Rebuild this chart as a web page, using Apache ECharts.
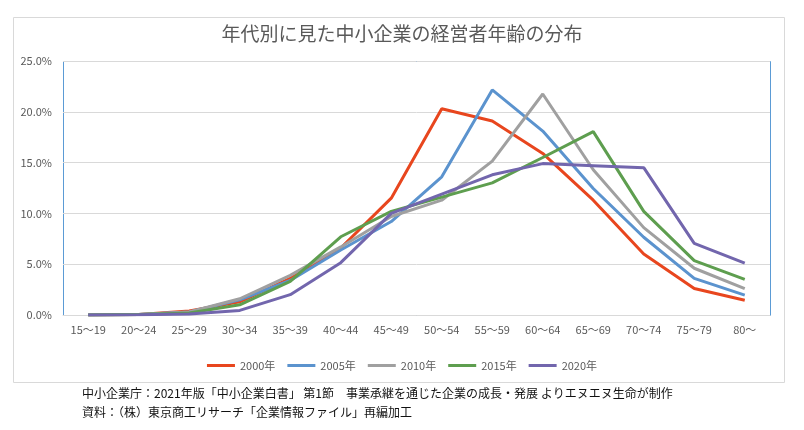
<!DOCTYPE html>
<html>
<head>
<meta charset="utf-8">
<script src="https://cdn.jsdelivr.net/npm/echarts@6/dist/echarts.min.js"></script>
<style>
html, body { margin: 0; padding: 0; background: #fff; }
#chart { width: 804px; height: 430px; }
</style>
</head>
<body>
<div id="chart"></div>
<script>
// 年齢階級
const categories = ["15〜19", "20〜24", "25〜29", "30〜34", "35〜39", "40〜44", "45〜49",
	"50〜54", "55〜59", "60〜64", "65〜69", "70〜74", "75〜79", "80〜"];
// 各年の割合(%)
const y2000 = [0, 0.05, 0.4, 1.3, 3.6, 6.6, 11.5, 20.3, 19.1, 15.9, 11.3, 6.0, 2.6, 1.45];
const y2005 = [0, 0.05, 0.3, 1.5, 3.4, 6.4, 9.2, 13.6, 22.15, 18.1, 12.45, 7.65, 3.6, 1.95];
const y2010 = [0, 0.05, 0.3, 1.6, 3.9, 6.7, 9.7, 11.3, 15.15, 21.75, 14.3, 8.6, 4.6, 2.6];
const y2015 = [0, 0.05, 0.2, 1.0, 3.3, 7.7, 10.2, 11.6, 13.0, 15.5, 18.05, 10.2, 5.35, 3.5];
const y2020 = [0, 0.03, 0.1, 0.45, 2.0, 5.15, 10.0, 11.9, 13.8, 14.9, 14.7, 14.5, 7.05, 5.1];
const seriesNames = ["2000年", "2005年", "2010年", "2015年", "2020年"];
const seriesData = [y2000, y2005, y2010, y2015, y2020];
const colors = ["#E8461E", "#5B93CE", "#A0A0A0", "#5E9E4F", "#7266AD"];

const font = '"Noto Sans CJK JP", "Noto Sans", sans-serif';
let myChart = echarts.init(document.getElementById("chart"));
let option = {
	animation: false,
	textStyle: { fontFamily: font },
	title: {
		text: "年代別に見た中小企業の経営者年齢の分布",
		left: "center",
		top: 19,
		textStyle: { fontSize: 19, fontWeight: "normal", color: "#595959", fontFamily: font },
	},
	graphic: [
		{
			// 外枠
			type: "rect",
			shape: { x: 13.5, y: 17.5, width: 771, height: 365 },
			style: { fill: "none", stroke: "#D9D9D9", lineWidth: 1 },
			silent: true,
			z: -1,
		},
		{
			// プロットエリア枠
			type: "rect",
			shape: { x: 63.5, y: 61.5, width: 707, height: 254 },
			style: { fill: "none", stroke: "#5B9BD5", lineWidth: 1 },
			silent: true,
			z: 0,
		},
		{
			type: "text",
			left: 82,
			top: 384,
			style: {
				text: "中小企業庁：2021年版「中小企業白書」 第1節　事業承継を通じた企業の成長・発展 よりエヌエヌ生命が制作\n資料：（株）東京商工リサーチ「企業情報ファイル」再編加工",
				font: "12px " + font,
				fill: "#111",
				lineHeight: 19,
			},
		},
	],
	legend: {
		data: seriesNames,
		top: 355,
		left: "center",
		icon: "rect",
		itemWidth: 28,
		itemHeight: 3,
		itemGap: 12,
		textStyle: { fontSize: 11, color: "#595959", fontFamily: font },
	},
	grid: {
		left: 63,
		right: 34,
		top: 61,
		bottom: 115,
	},
	xAxis: {
		type: "category",
		data: categories,
		boundaryGap: true,
		axisLine: { lineStyle: { color: "#D9D9D9" } },
		axisTick: { show: false },
		axisLabel: { color: "#595959", fontSize: 11, margin: 9, interval: 0 },
	},
	yAxis: {
		type: "value",
		min: 0,
		max: 25,
		interval: 5,
		axisLine: { show: false },
		axisTick: { show: false },
		axisLabel: {
			color: "#595959",
			fontSize: 11,
			margin: 11,
			formatter: (v) => v.toFixed(1) + "%",
		},
		splitLine: { lineStyle: { color: "#D9D9D9" } },
	},
	series: seriesNames.map((name, i) => ({
		name: name,
		type: "line",
		data: seriesData[i],
		symbol: "none",
		color: colors[i],
		lineStyle: { width: 3, color: colors[i] },
	})),
};
myChart.setOption(option);
</script>
</body>
</html>
